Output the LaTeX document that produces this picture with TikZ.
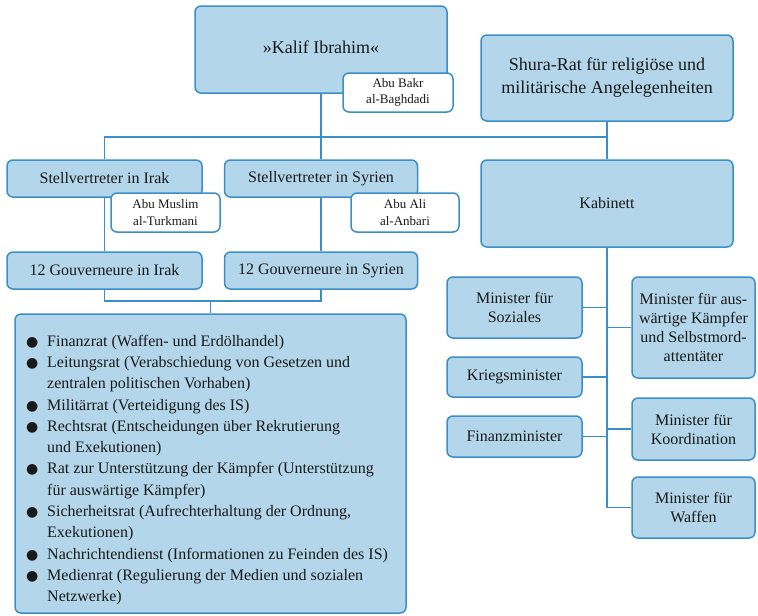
\documentclass[tikz,border=0pt]{standalone}
\usepackage{fontspec}
\setmainfont{Liberation Serif}
\newfontfamily\bulfont{DejaVu Sans}
\usetikzlibrary{calc}
\pgfdeclarelayer{bg}
\pgfsetlayers{bg,main}
\definecolor{bfill}{RGB}{180,214,234}
\definecolor{bline}{RGB}{58,143,201}
\definecolor{txt}{RGB}{25,25,25}
\newcommand{\bul}{{\bulfont\fontsize{14}{14}\selectfont ●}}
\begin{document}
\begin{tikzpicture}[x=1pt,y=-1pt,
  box/.style={draw=bline, fill=bfill, line width=1.5pt, rounded corners=6pt, align=center, inner sep=0pt, text=txt},
  bigbox/.style={box, font=\rmfamily\fontsize{18}{23}\selectfont},
  midbox/.style={box, font=\rmfamily\fontsize{16}{19}\selectfont},
  namebox/.style={box, fill=white, font=\rmfamily\fontsize{13}{16.5}\selectfont},
  conn/.style={draw=bline, line width=1.7pt}]
\useasboundingbox (0,0) rectangle (758,616);

% nodes
\node[bigbox, minimum width=252pt, minimum height=87pt, text depth=4pt] (kalif) at (321,49.5) {»Kalif Ibrahim«};
\node[bigbox, minimum width=252pt, minimum height=86pt] (shura) at (607,78) {Shura-Rat für religiöse und\\militärische Angelegenheiten};
\node[midbox, minimum width=252pt, minimum height=87pt] (kabinett) at (607,203.5) {Kabinett};
\node[midbox, minimum width=195pt, minimum height=37pt] (stirak) at (104.5,178.5) {Stellvertreter in Irak};
\node[midbox, minimum width=193pt, minimum height=37pt] (stsyr) at (321,178.5) {Stellvertreter in Syrien};
\node[midbox, minimum width=195pt, minimum height=37pt] (govirak) at (104.5,270.5) {12 Gouverneure in Irak};
\node[midbox, minimum width=193pt, minimum height=37pt] (govsyr) at (321,270.5) {12 Gouverneure in Syrien};
\node[box, minimum width=391pt, minimum height=299pt] (list) at (210.5,463.5) {};
\node[midbox, minimum width=135pt, minimum height=61pt] (soz) at (514.5,307.5) {Minister für\\Soziales};
\node[midbox, minimum width=135pt, minimum height=40pt] (krieg) at (514.5,377) {Kriegsminister};
\node[midbox, minimum width=135pt, minimum height=41pt] (finanz) at (514.5,436.5) {Finanzminister};
\node[midbox, minimum width=123pt, minimum height=101pt] (ausw) at (693.5,327.5) {Minister für aus-\\wärtige Kämpfer\\und Selbstmord-\\attentäter};
\node[midbox, minimum width=123pt, minimum height=62pt] (koord) at (693.5,429) {Minister für\\Koordination};
\node[midbox, minimum width=123pt, minimum height=61pt] (waffen) at (693.5,507.5) {Minister für\\Waffen};

% name labels
\node[namebox, minimum width=110pt, minimum height=39pt] (abubakr) at (398,92.5) {Abu Bakr\\al-Baghdadi};
\node[namebox, minimum width=109pt, minimum height=39pt] (abumuslim) at (165.5,212.5) {Abu Muslim\\al-Turkmani};
\node[namebox, minimum width=108pt, minimum height=39pt] (abuali) at (405,212.5) {Abu Ali\\al-Anbari};

% list text
\node[anchor=north west, inner sep=0pt, text=txt, font=\rmfamily] (listtext) at (26,331) {\fontsize{16}{21.3}\selectfont
\begin{tabular}{@{}p{21pt}@{}l@{}}
\bul & Finanzrat (Waffen- und Erdölhandel)\\
\bul & Leitungsrat (Verabschiedung von Gesetzen und\\
 & zentralen politischen Vorhaben)\\
\bul & Militärrat (Verteidigung des IS)\\
\bul & Rechtsrat (Entscheidungen über Rekrutierung\\
 & und Exekutionen)\\
\bul & Rat zur Unterstützung der Kämpfer (Unterstützung\\
 & für auswärtige Kämpfer)\\
\bul & Sicherheitsrat (Aufrechterhaltung der Ordnung,\\
 & Exekutionen)\\
\bul & Nachrichtendienst (Informationen zu Feinden des IS)\\
\bul & Medienrat (Regulierung der Medien und sozialen\\
 & Netzwerke)
\end{tabular}};

% connectors (behind boxes)
\coordinate (j1) at (kalif.south |- 0,137);
\coordinate (j2) at ($(list.north)+(0,-12)$);
\coordinate (tend) at (kabinett.south |- waffen.west);
\begin{pgfonlayer}{bg}
\draw[conn] (kalif.south) -- (stsyr.north);
\draw[conn] (stirak.north) |- (shura.south |- j1);
\draw[conn] (shura.south) -- (kabinett.north);
\draw[conn] (stirak.south) -- (govirak.north);
\draw[conn] (stsyr.south) -- (govsyr.north);
\draw[conn] (govirak.south) |- (j2) -| (govsyr.south);
\draw[conn] (j2) -- (list.north);
\draw[conn] (kabinett.south) -- (tend) -- (waffen.west);
\draw[conn] (soz.east) -- (soz.east -| tend);
\draw[conn] (krieg.east) -- (krieg.east -| tend);
\draw[conn] (finanz.east) -- (finanz.east -| tend);
\draw[conn] (ausw.west) -- (ausw.west -| tend);
\draw[conn] (koord.west) -- (koord.west -| tend);
\end{pgfonlayer}
\end{tikzpicture}
\end{document}
